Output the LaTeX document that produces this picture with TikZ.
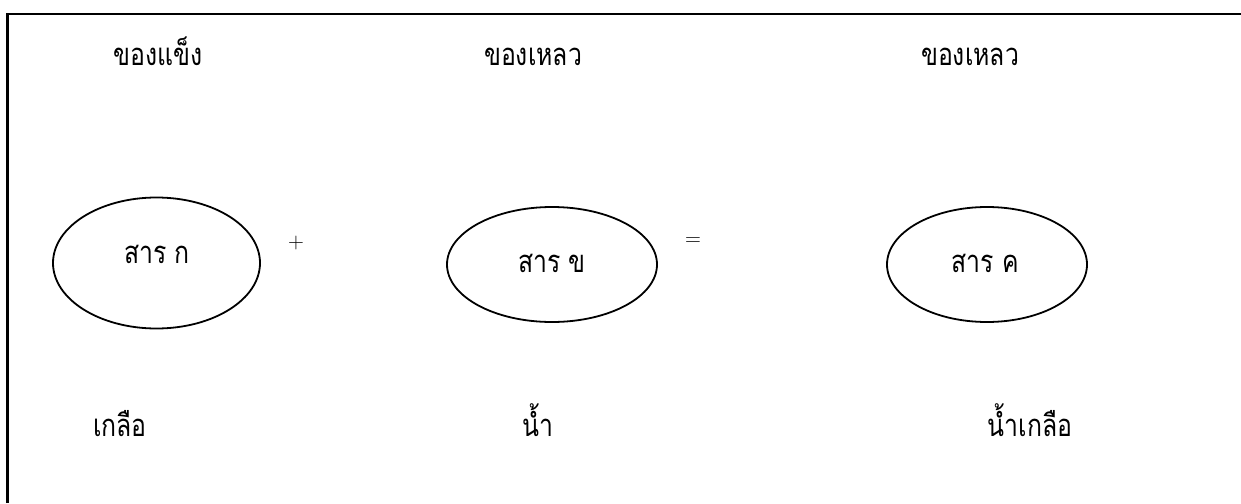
\documentclass[tikz,border=0pt]{standalone}
\usepackage{fontspec}
\newfontfamily\thaifont[Script=Thai,FakeStretch=0.8]{Loma}
\usetikzlibrary{shapes.geometric}
\tikzset{
  thlabel/.style={font=\thaifont\fontsize{31}{36}\selectfont, anchor=base, inner sep=0pt},
  blob/.style={draw, line width=1.8pt, ellipse, inner sep=0pt},
  opsign/.style={font=\fontsize{22}{26}\selectfont, inner sep=0pt},
}
\begin{document}
\begin{tikzpicture}[x=1pt,y=-1pt]
\useasboundingbox (0,0) rectangle (1241,503);
% frame (top and left edges only)
\draw[line width=2.2pt] (7.5,503) -- (7.5,14) -- (1241,14);
% top labels
\node[thlabel] (s1) at (158,66) {ของแข็ง};
\node[thlabel] (s2) at (533,66) {ของเหลว};
\node[thlabel] (s3) at (970,66) {ของเหลว};
% ellipses
\node[blob, minimum width=207pt, minimum height=131pt] (e1) at (156.5,263) {};
\node[blob, minimum width=210pt, minimum height=115pt] (e2) at (552,264.5) {};
\node[blob, minimum width=200pt, minimum height=115pt] (e3) at (987,264.5) {};
\node[thlabel] (n1) at (157,263) {สาร ก};
\node[thlabel] (n2) at (552,272) {สาร ข};
\node[thlabel] (n3) at (985,272) {สาร ค};
% operators
\node[opsign] (plus) at (296,243) {+};
\node[opsign] (eq) at (693,242) {=};
% bottom labels
\node[thlabel] (b1) at (120,436) {เกลือ};
\node[thlabel] (b2) at (538,436) {น้ำ};
\node[thlabel] (b3) at (1030,436) {น้ำเกลือ};
\end{tikzpicture}
\end{document}
